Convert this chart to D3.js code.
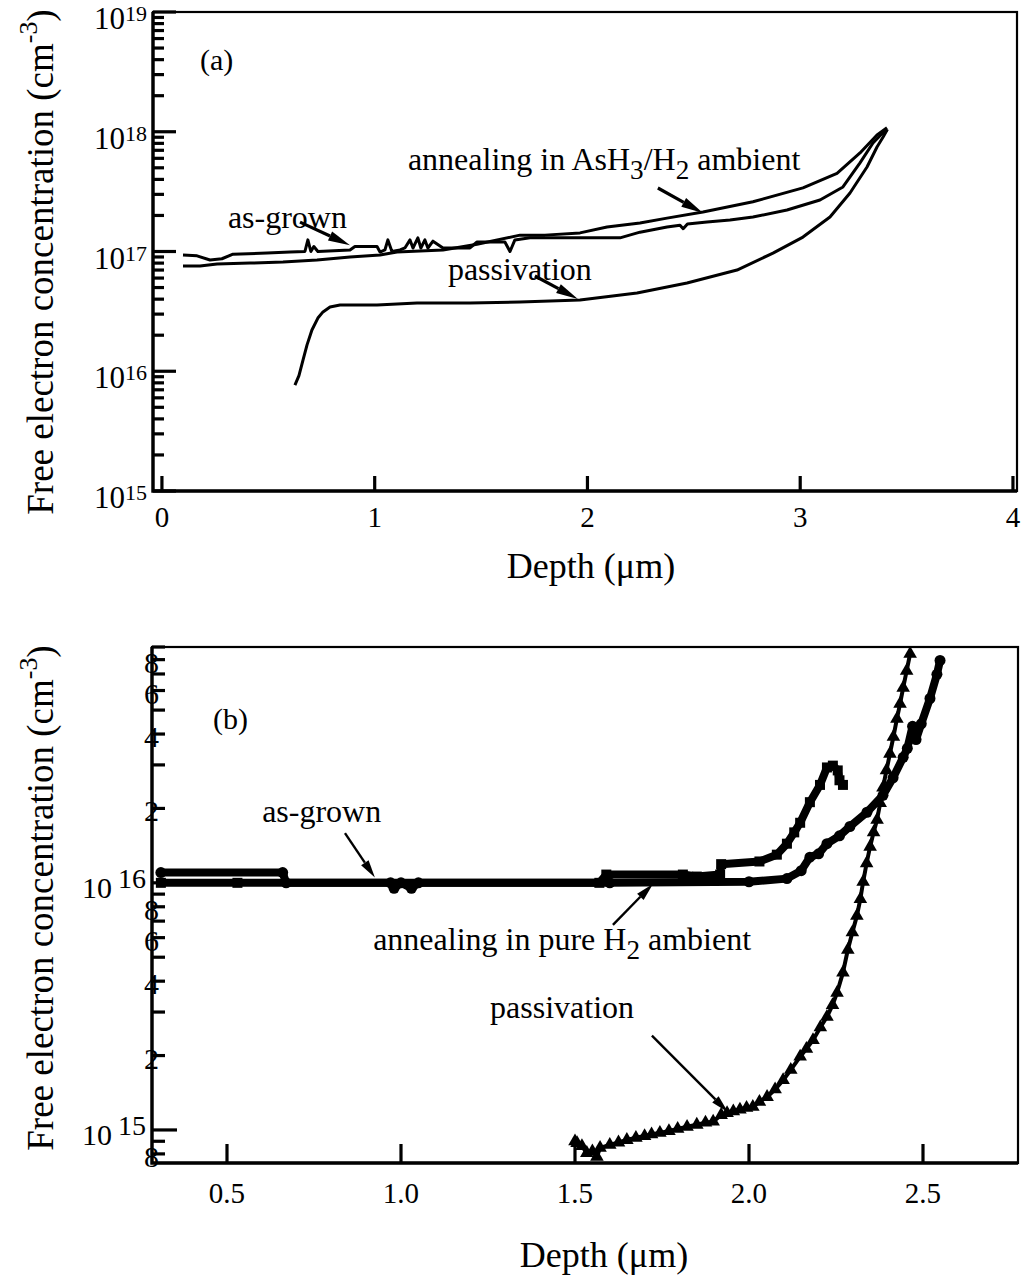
<!DOCTYPE html>
<html>
<head>
<meta charset="utf-8">
<script src="https://cdn.jsdelivr.net/npm/d3@7"></script>
<style>
  body { margin: 0; background: #fff; }
  svg text { font-family: "Liberation Serif", "Times New Roman", serif; fill: #000; }
</style>
</head>
<body>
<svg id="fig" width="1026" height="1279"></svg>
<script>
// ---------- data, panel (a) : [depth um, concentration cm^-3] ----------
const aAsGrown = [
  [0.099, 9.35e16], [0.165, 9.2e16], [0.226, 8.5e16], [0.282, 8.7e16], [0.334, 9.5e16],
  [0.494, 9.7e16], [0.602, 9.9e16], [0.672, 1.0e17], [0.686, 1.25e17], [0.700, 1.0e17],
  [0.714, 1.1e17], [0.733, 1.0e17], [0.884, 1.03e17], [0.907, 1.1e17], [1.011, 1.1e17],
  [1.025, 9.9e16], [1.048, 1.03e17], [1.062, 1.25e17], [1.081, 1.0e17], [1.119, 1.03e17],
  [1.142, 1.07e17], [1.166, 1.25e17], [1.180, 1.07e17], [1.203, 1.3e17], [1.217, 1.07e17],
  [1.236, 1.25e17], [1.250, 1.07e17], [1.274, 1.22e17], [1.321, 1.07e17], [1.448, 1.07e17],
  [1.481, 1.2e17], [1.612, 1.2e17], [1.636, 1.0e17], [1.659, 1.25e17], [1.730, 1.3e17],
  [1.965, 1.3e17], [2.153, 1.3e17], [2.247, 1.45e17], [2.374, 1.6e17], [2.435, 1.66e17],
  [2.45, 1.55e17], [2.47, 1.7e17], [2.562, 1.76e17], [2.670, 1.83e17], [2.778, 1.94e17],
  [2.938, 2.22e17], [3.093, 2.69e17], [3.201, 3.46e17], [3.281, 5.5e17], [3.342, 8.05e17],
  [3.389, 9.8e17], [3.408, 1.03e18]
];
const aAnnealAsH3 = [
  [0.099, 7.57e16], [0.179, 7.57e16], [0.259, 7.87e16], [0.414, 8.0e16], [0.569, 8.17e16],
  [0.729, 8.5e16], [0.884, 9.0e16], [1.025, 9.35e16], [1.105, 9.9e16], [1.321, 1.03e17],
  [1.481, 1.15e17], [1.683, 1.37e17], [1.800, 1.37e17], [1.965, 1.43e17], [2.092, 1.6e17],
  [2.247, 1.73e17], [2.374, 1.9e17], [2.543, 2.14e17], [2.778, 2.6e17], [3.013, 3.4e17],
  [3.173, 4.5e17], [3.281, 6.65e17], [3.361, 9.4e17], [3.408, 1.08e18]
];
const aPassivation = [
  [0.625, 7.67e15], [0.644, 9.2e15], [0.663, 1.24e16], [0.682, 1.66e16], [0.705, 2.21e16],
  [0.733, 2.78e16], [0.757, 3.13e16], [0.790, 3.44e16], [0.837, 3.57e16], [1.011, 3.57e16],
  [1.199, 3.72e16], [1.448, 3.72e16], [1.683, 3.79e16], [1.965, 3.94e16], [2.233, 4.5e16],
  [2.468, 5.46e16], [2.703, 7.0e16], [2.872, 9.7e16], [3.013, 1.32e17], [3.140, 1.94e17],
  [3.234, 3.08e17], [3.314, 5.08e17], [3.361, 7.46e17], [3.389, 9.0e17], [3.410, 1.05e18]
];

// ---------- data, panel (b) ----------
const bAsGrown = [
  [0.31, 1.1e16], [0.66, 1.1e16], [0.67, 1.0e16], [0.97, 1.0e16], [0.98, 9.5e15],
  [1.0, 1.0e16], [1.03, 9.5e15], [1.05, 1.0e16], [1.60, 1.0e16], [2.0, 1.01e16],
  [2.109, 1.04e16], [2.15, 1.12e16], [2.175, 1.27e16], [2.20, 1.31e16], [2.224, 1.44e16],
  [2.26, 1.55e16], [2.29, 1.69e16], [2.339, 1.93e16], [2.385, 2.26e16], [2.414, 2.66e16],
  [2.443, 3.22e16], [2.455, 3.5e16], [2.47, 4.3e16], [2.48, 3.8e16], [2.495, 4.4e16],
  [2.52, 5.57e16], [2.54, 6.98e16], [2.549, 7.94e16]
];
const bAnnealH2 = [
  [0.31, 1.0e16], [0.53, 1.0e16], [1.57, 1.0e16], [1.59, 1.08e16], [1.81, 1.08e16],
  [1.85, 1.06e16], [1.917, 1.08e16], [1.92, 1.19e16], [2.03, 1.22e16], [2.08, 1.3e16],
  [2.109, 1.44e16], [2.13, 1.6e16], [2.147, 1.75e16], [2.175, 2.12e16], [2.204, 2.49e16],
  [2.224, 2.93e16], [2.241, 2.98e16], [2.255, 2.85e16], [2.26, 2.6e16], [2.27, 2.49e16]
];
const bPassivation = [
  [1.50, 9.0e14], [1.506, 8.85e14], [1.52, 8.6e14], [1.534, 8.07e14], [1.55, 8.2e14],
  [1.563, 7.78e14], [1.572, 8.46e14], [1.60, 8.7e14], [1.625, 8.9e14], [1.649, 9.11e14],
  [1.675, 9.3e14], [1.70, 9.45e14], [1.72, 9.6e14], [1.744, 9.73e14], [1.77, 9.9e14],
  [1.795, 1.01e15], [1.822, 1.03e15], [1.85, 1.05e15], [1.875, 1.07e15], [1.897, 1.08e15],
  [1.92, 1.15e15], [1.937, 1.17e15], [1.955, 1.19e15], [1.974, 1.21e15], [1.993, 1.23e15],
  [2.011, 1.24e15], [2.03, 1.3e15], [2.052, 1.36e15], [2.075, 1.46e15], [2.098, 1.59e15],
  [2.12, 1.75e15], [2.147, 1.98e15], [2.165, 2.13e15], [2.184, 2.31e15], [2.205, 2.6e15],
  [2.224, 2.87e15], [2.24, 3.2e15], [2.253, 3.59e15], [2.27, 4.33e15], [2.284, 5.36e15],
  [2.297, 6.3e15], [2.31, 7.35e15], [2.32, 8.6e15], [2.328, 1.01e16], [2.338, 1.2e16],
  [2.348, 1.4e16], [2.358, 1.6e16], [2.368, 1.8e16], [2.377, 2.1e16], [2.385, 2.43e16],
  [2.395, 2.85e16], [2.405, 3.33e16], [2.415, 3.9e16], [2.425, 4.61e16], [2.434, 5.3e16],
  [2.443, 6.15e16], [2.453, 7.2e16], [2.463, 8.45e16]
];

// ---------- ticks ----------
const aXTicks = [0, 1, 2, 3, 4];
const aDecades = [15, 16, 17, 18, 19];
const bXTicks = [0.5, 1.0, 1.5, 2.0, 2.5];
const bDecades = [15, 16];
const bMantissaLabels = [8e14, 2e15, 4e15, 6e15, 8e15, 2e16, 4e16, 6e16, 8e16];

// ---------- annotations (data coords) ----------
const aNotes = [
  { text: "as-grown", x: 0.31, y: 1.57e17, from: [0.649, 1.76e17], to: [0.884, 1.13e17] },
  { text: "annealing in AsH|3|/H|2| ambient", x: 1.156, y: 4.8e17, from: [2.331, 3.39e17], to: [2.543, 2.1e17] },
  { text: "passivation", x: 1.344, y: 5.78e16, from: [1.753, 6.24e16], to: [1.955, 4.01e16] }
];
const bNotes = [
  { text: "as-grown", x: 0.601, y: 1.77e16, from: [0.839, 1.59e16], to: [0.925, 1.05e16] },
  { text: "annealing in pure H|2| ambient", x: 0.92, y: 5.36e15, from: [1.609, 6.76e15], to: [1.724, 9.9e15] },
  { text: "passivation", x: 1.256, y: 2.84e15, from: [1.721, 2.41e15], to: [1.94, 1.18e15] }
];

const svg = d3.select("#fig");

const xA = d3.scaleLinear().domain([-0.042, 4.019]).range([153, 1017]);
const yA = d3.scaleLog().domain([1e15, 1e19]).range([491, 12]);
const xB = d3.scaleLinear().domain([0.2845, 2.773]).range([152, 1018]);
const yB = d3.scaleLog().domain([7.35e14, 9.0e16]).range([1163, 647]);

function frame(x, y) {
  const [x0, x1] = x.range(), [y1, y0] = y.range();
  svg.append("rect")
    .attr("x", x0).attr("y", y0)
    .attr("width", x1 - x0).attr("height", y1 - y0)
    .attr("fill", "none").attr("stroke", "#000").attr("stroke-width", 2.2);
  // heavier left and bottom axes
  svg.append("path")
    .attr("d", `M${x0},${y0}V${y1}H${x1}`)
    .attr("fill", "none").attr("stroke", "#000").attr("stroke-width", 3.4);
}

// inward tick marks on the left axis
function yTicks(x, y, values, len) {
  const x0 = x.range()[0];
  svg.append("g").selectAll("line").data(values).join("line")
    .attr("x1", x0).attr("x2", x0 + len)
    .attr("y1", d => y(d)).attr("y2", d => y(d))
    .attr("stroke", "#000").attr("stroke-width", 3.2);
}
// inward tick marks on the bottom axis
function xTicks(x, y, values, len, fmt, pad, size) {
  const y0 = y.range()[0];
  const g = svg.append("g");
  g.selectAll("line").data(values).join("line")
    .attr("x1", d => x(d)).attr("x2", d => x(d))
    .attr("y1", y0).attr("y2", y0 - len)
    .attr("stroke", "#000").attr("stroke-width", 3.2);
  g.selectAll("text").data(values).join("text")
    .attr("x", d => x(d)).attr("y", y0 + pad)
    .attr("text-anchor", "middle").attr("font-size", size)
    .text(fmt);
}

function arrow(x0, y0, x1, y1, lw, hl, hw) {
  const a = Math.atan2(y1 - y0, x1 - x0);
  const bx = x1 - hl * Math.cos(a), by = y1 - hl * Math.sin(a);
  const px = -Math.sin(a) * hw / 2, py = Math.cos(a) * hw / 2;
  svg.append("line")
    .attr("x1", x0).attr("y1", y0).attr("x2", bx).attr("y2", by)
    .attr("stroke", "#000").attr("stroke-width", lw);
  svg.append("polygon")
    .attr("points", [[x1, y1], [bx + px, by + py], [bx - px, by - py]].map(p => p.join(",")).join(" "))
    .attr("fill", "#000");
}

// text with |sub| parts
function noteText(n, x, y, size) {
  const t = svg.append("text")
    .attr("x", x(n.x)).attr("y", y(n.y))
    .attr("font-size", size);
  n.text.split("|").forEach((part, i) => {
    if (!part) return;
    if (i % 2 === 1) {
      t.append("tspan").attr("dy", 9).attr("font-size", size * 0.85).text(part);
    } else {
      t.append("tspan").attr("dy", i === 0 ? 0 : -9).text(part);
    }
  });
}

function yLabel(cx, cy, size) {
  const t = svg.append("text")
    .attr("transform", `translate(${cx},${cy}) rotate(-90)`)
    .attr("text-anchor", "middle")
    .attr("font-size", size);
  t.append("tspan").text("Free electron concentration (cm");
  t.append("tspan").attr("dy", -16).attr("font-size", size * 0.7).text("-3");
  t.append("tspan").attr("dy", 16).text(")");
}

// ================= panel (a) =================
frame(xA, yA);

const aMinor = [];
aDecades.slice(0, -1).forEach(e => d3.range(2, 10).forEach(k => aMinor.push(k * Math.pow(10, e))));
yTicks(xA, yA, aMinor, 11);
yTicks(xA, yA, aDecades.map(e => Math.pow(10, e)), 23);
xTicks(xA, yA, aXTicks, 15, d3.format("d"), 36, 29);

aDecades.forEach(e => {
  const yy = yA(Math.pow(10, e));
  const t = svg.append("text").attr("x", 94).attr("y", yy + 17).attr("font-size", 31);
  t.append("tspan").text("10");
  t.append("tspan").attr("dy", -8).attr("font-size", 22).text(e);
});

const lineA = d3.line().x(d => xA(d[0])).y(d => yA(d[1]));
[aAsGrown, aAnnealAsH3, aPassivation].forEach(s => {
  svg.append("path").datum(s).attr("d", lineA)
    .attr("fill", "none").attr("stroke", "#000").attr("stroke-width", 3)
    .attr("stroke-linejoin", "round");
});

svg.append("text").attr("x", xA(0.179)).attr("y", yA(3.28e18)).attr("font-size", 30).text("(a)");
aNotes.forEach(n => {
  noteText(n, xA, yA, 32);
  arrow(xA(n.from[0]), yA(n.from[1]), xA(n.to[0]), yA(n.to[1]), 3.2, 22, 10);
});

yLabel(53, 262, 37);
svg.append("text").attr("x", 591).attr("y", 578).attr("text-anchor", "middle")
  .attr("font-size", 36).text("Depth (\u03BCm)");

// ================= panel (b) =================
frame(xB, yB);

const bMinor = [];
[14, 15, 16].forEach(e => d3.range(2, 10).forEach(k => {
  const v = k * Math.pow(10, e);
  if (v >= yB.domain()[0] && v <= yB.domain()[1]) bMinor.push(v);
}));
yTicks(xB, yB, bMinor, 13);
yTicks(xB, yB, bDecades.map(e => Math.pow(10, e)), 25);
xTicks(xB, yB, bXTicks, 19, d3.format(".1f"), 40, 29);

bMantissaLabels.forEach(v => {
  const m = Math.round(v / Math.pow(10, Math.floor(Math.log10(v))));
  svg.append("text").attr("x", 159).attr("y", yB(v) + 13)
    .attr("text-anchor", "end").attr("font-size", 30).text(m);
});
bDecades.forEach(e => {
  const yy = yB(Math.pow(10, e));
  const t = svg.append("text").attr("x", 82).attr("y", yy + 15).attr("font-size", 30);
  t.append("tspan").text("10");
  t.append("tspan").attr("dx", 6).attr("dy", -10).attr("font-size", 28).text(e);
});

const lineB = d3.line().x(d => xB(d[0])).y(d => yB(d[1]));
svg.append("path").datum(bAnnealH2).attr("d", lineB)
  .attr("fill", "none").attr("stroke", "#000").attr("stroke-width", 8).attr("stroke-linejoin", "round");
svg.selectAll(".sq").data(bAnnealH2).join("rect")
  .attr("x", d => xB(d[0]) - 5).attr("y", d => yB(d[1]) - 5)
  .attr("width", 10).attr("height", 10).attr("fill", "#000");
svg.append("path").datum(bAsGrown).attr("d", lineB)
  .attr("fill", "none").attr("stroke", "#000").attr("stroke-width", 8).attr("stroke-linejoin", "round");
svg.selectAll(".ci").data(bAsGrown).join("circle")
  .attr("cx", d => xB(d[0])).attr("cy", d => yB(d[1])).attr("r", 5.5).attr("fill", "#000");
svg.append("path").datum(bPassivation).attr("d", lineB)
  .attr("fill", "none").attr("stroke", "#000").attr("stroke-width", 4).attr("stroke-linejoin", "round");
const tri = d3.symbol().type(d3.symbolTriangle).size(80);
svg.selectAll(".tr").data(bPassivation).join("path")
  .attr("transform", d => `translate(${xB(d[0])},${yB(d[1])})`)
  .attr("d", tri).attr("fill", "#000");

svg.append("text").attr("x", xB(0.46)).attr("y", yB(4.2e16)).attr("font-size", 30).text("(b)");
bNotes.forEach(n => {
  noteText(n, xB, yB, 32);
  arrow(xB(n.from[0]), yB(n.from[1]), xB(n.to[0]), yB(n.to[1]), 2.4, 18, 9);
});

yLabel(53, 898, 37);
svg.append("text").attr("x", 604).attr("y", 1267).attr("text-anchor", "middle")
  .attr("font-size", 36).text("Depth (\u03BCm)");
</script>
</body>
</html>
